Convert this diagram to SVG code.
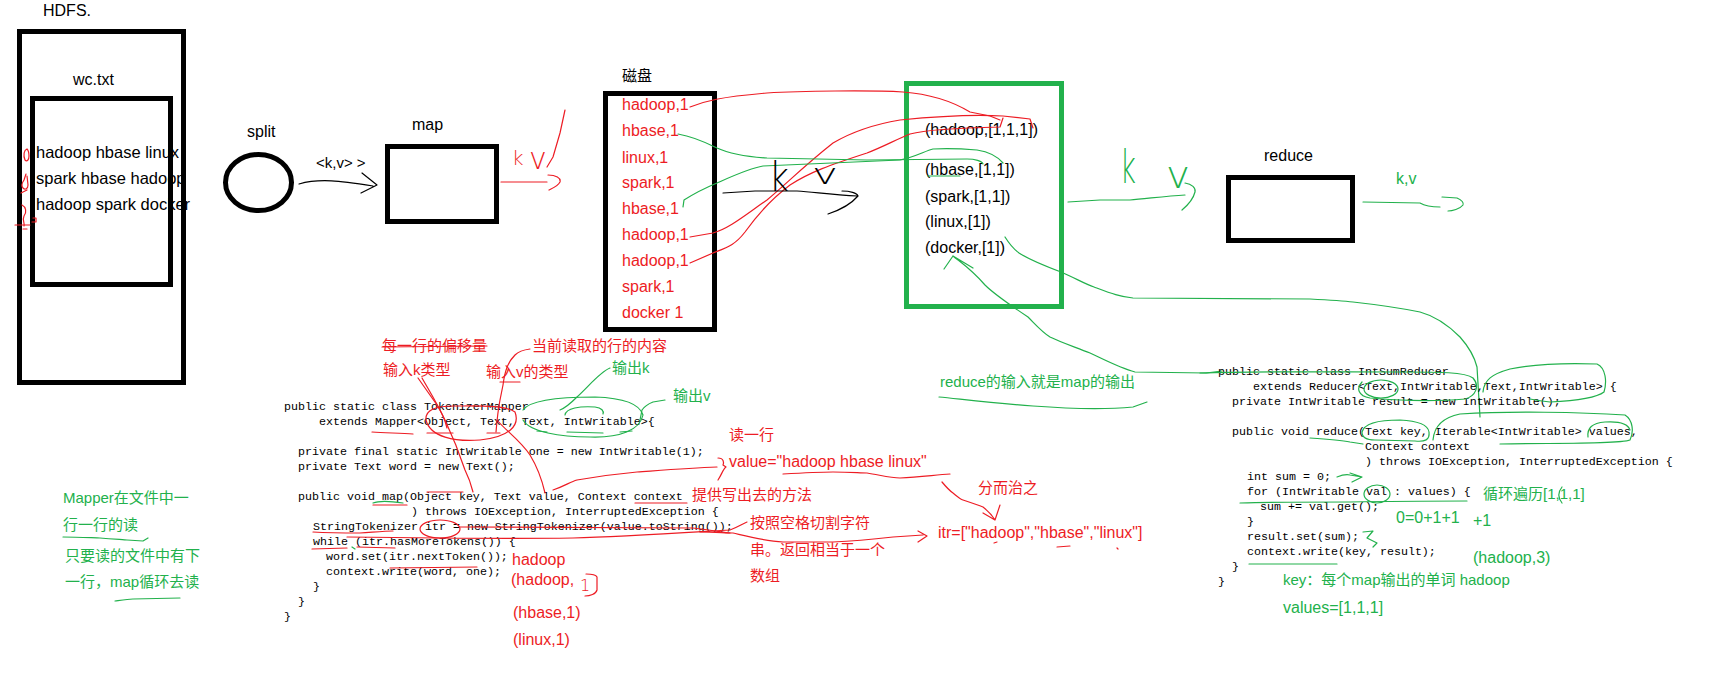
<svg xmlns="http://www.w3.org/2000/svg" width="1733" height="674" viewBox="0 0 1733 674">
<style>
.box{fill:none;stroke:#000;stroke-width:5}
.gbox{fill:none;stroke:#22b14c;stroke-width:5}
.t{font-family:"Liberation Sans","Noto Sans CJK SC",sans-serif;font-size:16px;fill:#000}
.cn{font-size:15px}
.r{fill:#ed1c24}
.g{fill:#22b14c}
.code{font-family:"Liberation Mono",monospace;font-size:11.67px;fill:#000}
.hw{font-family:"DejaVu Sans",sans-serif;font-weight:200}
.pr,.pg,.pk{fill:none;stroke-width:1.2;stroke-linejoin:round;stroke-linecap:round}
.pr{stroke:#ed1c24}
.pg{stroke:#22b14c}
.pk{stroke:#000}
</style>
<rect width="1733" height="674" fill="#fff"/>

<g id="hdfs">
  <rect class="box" x="19.5" y="31.5" width="164" height="351"/>
  <text class="t" x="43" y="16">HDFS.</text>
</g>
<g id="wc-txt">
  <text class="t" x="73" y="85">wc.txt</text>
  <text class="t" x="36" y="158" style="font-size:16.5px">hadoop hbase linux</text>
  <text class="t" x="36" y="184" style="font-size:16.5px">spark hbase hadoop</text>
  <text class="t" x="36" y="210" style="font-size:16.5px">hadoop spark docker</text>
  <rect class="box" x="32.5" y="98.5" width="138" height="186"/>
  <path class="pr" d="M27,149 C24,150 23,155 25,160 C27,162 29,160 29,156 C29,152 28,150 27,149"/>
  <path class="pr" d="M26,174 L24,180 C22,183 21,186 23,188 C25,190 28,189 28,185 L27,176 M21,193 L27,190"/>
  <path class="pr" d="M22,205 C26,207 27,212 24,216 C22,220 25,223 24,226 M15,225 L30,225 M33,218 L36,218 L36,222 L32,222 M23,229 L27,229"/>
</g>
<g id="split">
  <ellipse class="box" cx="258.5" cy="182.5" rx="33" ry="28"/>
  <text class="t" x="247" y="137">split</text>
</g>
<g id="map">
  <rect class="box" x="387.5" y="146.5" width="109" height="75"/>
  <text class="t" x="412" y="130">map</text>
</g>
<g id="disk">
  <rect class="box" x="605.5" y="93.5" width="109" height="236"/>
  <text class="t cn" x="622" y="81">磁盘</text>
  <g class="t r">
    <text x="622" y="110">hadoop,1</text>
    <text x="622" y="136">hbase,1</text>
    <text x="622" y="163">linux,1</text>
    <text x="622" y="188">spark,1</text>
    <text x="622" y="214">hbase,1</text>
    <text x="622" y="240">hadoop,1</text>
    <text x="622" y="266">hadoop,1</text>
    <text x="622" y="292">spark,1</text>
    <text x="622" y="318">docker 1</text>
  </g>
</g>
<g id="grouped">
  <rect class="gbox" x="906.5" y="83.5" width="155" height="223"/>
  <text class="t" x="925" y="135">(hadoop,[1,1,1])</text>
  <text class="t" x="925" y="175">(hbase,[1,1])</text>
  <text class="t" x="925" y="202">(spark,[1,1])</text>
  <text class="t" x="925" y="227">(linux,[1])</text>
  <text class="t" x="925" y="253">(docker,[1])</text>
</g>
<g id="reduce">
  <rect class="box" x="1228.5" y="177.5" width="124" height="63"/>
  <text class="t" x="1264" y="161">reduce</text>
</g>

<g id="connectors">
  <path class="pk" d="M299,184 C320,178 340,181 373,186 M362,173 L377,185 L361,193"/>
  <text class="t" x="316" y="168" style="font-size:15px">&lt;k,v&gt; &gt;</text>
  <path class="pr" d="M501,182 L547,182 M548,175 C556,175 561,178 560,182 C558,186 553,188 549,190"/>
  <text class="hw r" x="512" y="165" style="font-size:20px">k</text>
  <text class="hw r" x="529" y="169" style="font-size:30px">v</text>
  <path class="pr" d="M547,167 L553,157 L560,133 L565,110"/>
  <path class="pr" d="M690,107 C705,101 720,97 767,93 C800,91 870,90 903,92 C930,94 950,100 970,112 L990,116 L1000,120"/>
  <path class="pr" d="M690,237 L713,233 C730,228 745,215 767,200 C785,185 805,165 833,143 C850,133 870,125 900,120 C930,117 970,114 1003,116 L1030,119 L1033,128"/>
  <path class="pr" d="M690,263 L713,253 C728,247 735,245 745,232 C755,218 770,200 790,185 C810,172 830,165 867,153 C885,146 895,140 910,134 C925,130 950,128 1000,127 L1003,118"/>
  <path class="pg" d="M678,134 C690,136 705,142 717,148 C730,154 750,157 767,158 L867,160 L967,159 C975,159 982,161 983,164"/>
  <path class="pg" d="M683,207 L684,200 C695,193 705,188 717,183 C735,175 750,168 763,166 L900,160 C915,157 925,151 933,149 C950,148 965,149 977,150 C990,152 998,157 1003,163"/>
  <path class="pg" d="M928,176 L960,176"/>
  <path class="pk" d="M723,193 L755,191 L797,191 C815,192 830,195 858,196 M842,191 C850,191 857,193 858,196 C852,203 840,210 828,214"/>
  <text class="hw" x="769" y="191" style="font-size:40px" textLength="20" lengthAdjust="spacingAndGlyphs">k</text>
  <text class="hw" x="812" y="184" style="font-size:29px" textLength="26" lengthAdjust="spacingAndGlyphs">v</text>
  <path class="pg" d="M1068,202 L1100,200 L1130,200 C1145,199 1165,196 1185,195 M1185,183 C1192,184 1196,188 1195,192 C1193,200 1188,205 1182,210"/>
  <text class="hw g" x="1120" y="183" style="font-size:46px" textLength="16" lengthAdjust="spacingAndGlyphs">k</text>
  <text class="hw g" x="1166" y="188" style="font-size:38px" textLength="24" lengthAdjust="spacingAndGlyphs">v</text>
  <path class="pg" d="M1363,202 L1420,203 C1425,206 1432,207 1440,207 M1442,197 L1457,198 C1462,200 1464,203 1463,205 C1460,209 1452,211 1448,211"/>
  <text class="t g" x="1396" y="184">k,v</text>
  <path class="pg" d="M944,269 L953,256 L973,268 M953,256 C960,262 970,268 985,285 C995,295 1010,305 1028,317 C1036,325 1042,332 1050,337 C1060,342 1075,347 1090,353 C1105,360 1120,368 1135,372 L1206,373 L1222,371"/>
  <path class="pg" d="M1005,237 C1010,245 1015,250 1019,253 C1030,260 1045,266 1061,272 C1075,278 1085,284 1094,287 C1110,293 1120,297 1133,298 L1310,299 C1330,300 1345,301 1353,302 C1380,305 1405,309 1420,312 C1435,316 1450,327 1460,337 C1468,346 1474,355 1477,367 L1480,417"/>
</g>

<g id="mapper-code" xml:space="preserve">
  <text class="code" x="284" y="410">public static class TokenizerMapper</text>
  <text class="code" x="319" y="425">extends Mapper&lt;Object, Text, Text, IntWritable&gt;{</text>
  <text class="code" x="298" y="455">private final static IntWritable one = new IntWritable(1);</text>
  <text class="code" x="298" y="470">private Text word = new Text();</text>
  <text class="code" x="298" y="500">public void map(Object key, Text value, Context context</text>
  <text class="code" x="411" y="515">) throws IOException, InterruptedException {</text>
  <text class="code" x="313" y="530">StringTokenizer itr = new StringTokenizer(value.toString());</text>
  <text class="code" x="313" y="545">while (itr.hasMoreTokens()) {</text>
  <text class="code" x="326" y="560">word.set(itr.nextToken());</text>
  <text class="code" x="326" y="575">context.write(word, one);</text>
  <text class="code" x="313" y="590">}</text>
  <text class="code" x="298" y="605">}</text>
  <text class="code" x="284" y="620">}</text>
</g>

<g id="mapper-notes">
  <text class="t cn r" x="382" y="351">每一行的偏移量</text>
  <path class="pr" d="M382,347 L487,346"/>
  <text class="t cn r" x="383" y="375">输入k类型</text>
  <text class="t cn r" x="532" y="351">当前读取的行的内容</text>
  <text class="t cn r" x="486" y="377">输入v的类型</text>
  <text class="t cn g" x="612" y="373">输出k</text>
  <text class="t cn g" x="673" y="401">输出v</text>
  <path class="pr" d="M418,378 C425,388 430,395 437,405 C442,413 445,420 447,428"/>
  <path class="pr" d="M422,378 C430,392 438,405 445,420 C452,435 460,455 465,470 C470,480 472,488 473,492"/>
  <path class="pr" d="M530,349 C522,350 518,352 515,355 C508,362 505,370 503,385 L500,400 C498,410 497,420 496,432"/>
  <path class="pr" d="M497,420 C505,430 520,440 530,455 C538,468 542,480 545,493"/>
  <path class="pr" d="M500,382 L520,382"/>
  <path class="pr" d="M426,420 C425,410 435,406 455,406 C480,406 505,405 515,412 C520,425 510,437 480,440 C455,442 430,437 426,420"/>
  <path class="pr" d="M372,432 C385,433 400,433 413,434 M427,433 L453,433 M487,433 L500,433"/>
  <path class="pg" d="M523,410 C530,400 560,397 595,397 C625,398 640,405 643,415 C640,430 620,438 590,437 C560,437 530,432 523,420"/>
  <path class="pg" d="M565,415 C566,408 580,406 595,407 C602,408 604,411 603,414"/>
  <path class="pg" d="M610,368 C600,372 590,385 577,397 C570,404 565,408 560,410"/>
  <path class="pg" d="M665,400 L653,402 C648,404 644,407 642,410 L640,420"/>
  <path class="pg" d="M537,431 L547,432 M567,432 L603,433 M620,432 L632,431"/>
  <path class="pr" d="M427,492 L463,492 M635,503 L687,503"/>
  <path class="pr" d="M553,490 C565,486 570,482 577,480 C600,476 615,474 637,472 C665,470 690,468 717,467 M718,458 C724,458 724,463 723,465 L726,467 C723,469 722,474 718,480"/>
  <path class="pg" d="M373,503 C378,501 390,501 403,503"/>
  <path class="pr" d="M373,505 L407,505"/>
  <path class="pr" d="M313,532 C330,533 350,533 360,533 C375,532 385,531 393,531"/>
  <ellipse class="pr" cx="440" cy="529" rx="20" ry="9"/>
  <path class="pr" d="M460,527 L693,528 C710,530 722,532 730,533"/>
  <path class="pr" d="M347,537 C420,538 500,539 573,538 C620,537 680,533 730,530 C738,527 742,524 747,522"/>
  <path class="pr" d="M700,532 C715,532 725,533 733,533 C750,537 765,541 783,542 L833,542 C855,541 875,539 893,537 L923,535 M918,531 L927,536 L918,542"/>
  <path class="pr" d="M312,549 L347,548 M357,547 L395,548 M390,568 L477,567"/>
  <path class="pg" d="M352,547 L355,549"/>
  <text class="t cn r" x="729" y="440">读一行</text>
  <text class="t r" x="729" y="467">value="hadoop hbase linux"</text>
  <path class="pr" d="M783,474 C800,473 820,472 833,472 C850,472 860,473 867,473 C880,475 890,478 900,478 C920,477 935,475 950,474"/>
  <text class="t cn r" x="692" y="500">提供写出去的方法</text>
  <text class="t cn r" x="978" y="493">分而治之</text>
  <path class="pr" d="M942,482 C947,488 950,491 953,493 C958,497 960,499 963,500 C972,503 978,505 983,507 C988,511 992,515 995,520 M983,513 L995,520 L1000,505"/>
  <text class="t cn r" x="750" y="528">按照空格切割字符</text>
  <text class="t cn r" x="750" y="555">串。返回相当于一个</text>
  <text class="t cn r" x="750" y="581">数组</text>
  <text class="t r" x="938" y="538">itr=["hadoop","hbase","linux"]</text>
  <path class="pr" d="M994,543 L997,542 M1057,547 L1070,546 M1117,548 L1118,549"/>
  <text class="t r" x="512" y="565">hadoop</text>
  <text class="t r" x="511" y="585">(hadoop,</text>
  <text class="hw r" x="580" y="591" style="font-size:16px">1</text>
  <path class="pr" d="M586,574 C592,574 596,575 597,577 L597,590 C596,594 590,596 585,596"/>
  <text class="t r" x="513" y="618">(hbase,1)</text>
  <text class="t r" x="513" y="645">(linux,1)</text>
</g>

<g id="mapper-summary">
  <text class="t cn g" x="63" y="503">Mapper在文件中一</text>
  <text class="t cn g" x="63" y="530">行一行的读</text>
  <path class="pg" d="M63,537 C80,537 95,538 100,538 C115,539 125,540 127,540 L143,541 L148,538"/>
  <text class="t cn g" x="65" y="561">只要读的文件中有下</text>
  <text class="t cn g" x="65" y="587">一行，map循环去读</text>
  <path class="pg" d="M115,601 C122,600 128,599 133,599 L180,598"/>
</g>

<g id="reduce-note">
  <text class="t cn g" x="940" y="387">reduce的输入就是map的输出</text>
  <path class="pg" d="M939,397 C960,399 990,403 1033,406 C1060,408 1100,410 1133,407 L1147,402"/>
</g>

<g id="reducer-code" xml:space="preserve">
  <text class="code" x="1218" y="375">public static class IntSumReducer</text>
  <text class="code" x="1253" y="390">extends Reducer&lt;Text,IntWritable,Text,IntWritable&gt; {</text>
  <text class="code" x="1232" y="405">private IntWritable result = new IntWritable();</text>
  <text class="code" x="1232" y="435">public void reduce(Text key, Iterable&lt;IntWritable&gt; values,</text>
  <text class="code" x="1365" y="450">Context context</text>
  <text class="code" x="1365" y="465">) throws IOException, InterruptedException {</text>
  <text class="code" x="1247" y="480">int sum = 0;</text>
  <text class="code" x="1247" y="495">for (IntWritable val : values) {</text>
  <text class="code" x="1260" y="510">sum += val.get();</text>
  <text class="code" x="1247" y="525">}</text>
  <text class="code" x="1247" y="540">result.set(sum);</text>
  <text class="code" x="1247" y="555">context.write(key, result);</text>
  <text class="code" x="1232" y="570">}</text>
  <text class="code" x="1218" y="585">}</text>
</g>

<g id="reducer-notes">
  <path class="pg" d="M1200,373 C1260,371 1330,372 1400,372 C1440,372 1465,372 1473,378 C1480,386 1476,396 1465,399 C1430,402 1390,400 1370,398 C1358,396 1356,388 1362,382"/>
  <ellipse class="pg" cx="1381" cy="389" rx="17" ry="9"/>
  <path class="pg" d="M1483,392 C1484,380 1492,374 1510,369 C1535,364 1570,363 1597,364 C1606,368 1607,382 1604,392 C1595,399 1570,401 1550,402 C1540,401 1535,400 1530,399"/>
  <path class="pg" d="M1362,432 C1364,424 1375,420 1400,420 C1420,421 1428,425 1429,432 C1430,440 1425,442 1415,441 L1375,440 C1366,440 1362,437 1362,432"/>
  <path class="pg" d="M1433,440 C1434,428 1440,418 1460,414 C1510,411 1580,412 1625,415 C1633,420 1634,432 1630,440 C1620,444 1560,443 1500,444"/>
  <path class="pg" d="M1588,437 C1587,428 1592,423 1605,422 C1620,421 1628,424 1630,430"/>
  <path class="pg" d="M1310,438 C1325,439 1340,440 1350,442 L1363,444"/>
  <path class="pg" d="M1337,477 C1342,475 1346,474 1350,475 L1362,477 M1350,473 L1362,477 L1352,482"/>
  <path class="pg" d="M1240,503 C1280,502 1320,502 1350,502 C1400,501 1440,501 1467,501"/>
  <ellipse class="pg" cx="1377" cy="494" rx="13" ry="9"/>
  <path class="pg" d="M1363,532 L1373,531 L1367,538 L1377,543 L1373,547"/>
  <path class="pg" d="M1249,564 L1337,564"/>
  <text class="t cn g" x="1483" y="499">循环遍历[1,1,1]</text>
  <path class="pg" d="M1562,487 C1558,492 1558,498 1562,503"/>
  <text class="t g" x="1396" y="523">0=0+1+1</text>
  <text class="t g" x="1473" y="526">+1</text>
  <text class="t g" x="1473" y="563">(hadoop,3)</text>
  <text class="t cn g" x="1283" y="585">key：每个map输出的单词 hadoop</text>
  <text class="t g" x="1283" y="613">values=[1,1,1]</text>
</g>
</svg>
